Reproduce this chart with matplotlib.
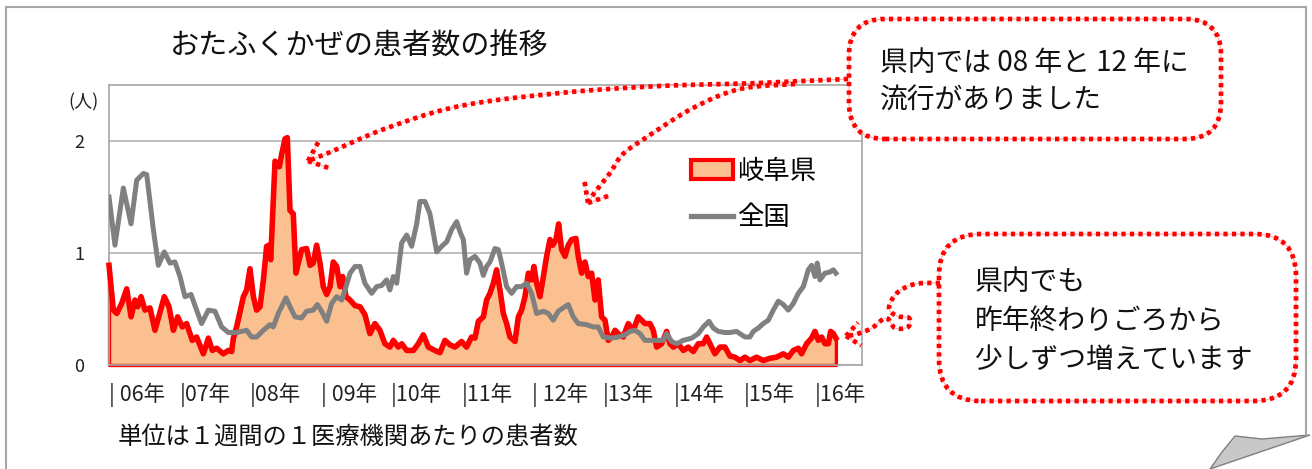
import numpy as np
import matplotlib
matplotlib.use("Agg")
import matplotlib.pyplot as plt
from matplotlib.patches import Patch, FancyBboxPatch, Polygon
from matplotlib.lines import Line2D
from matplotlib.transforms import Affine2D

plt.rcParams['font.family'] = ['Noto Sans CJK JP', 'DejaVu Sans']

# ---------------- data (weeks since start of 2006, patients per sentinel) -------------
zenkoku_week = [0, 4.4, 10.6, 16.3, 20.5, 25.4, 27.9, 32.8, 36.5, 40.9, 45.1, 48.8, 52.5, 56.2,
                60.7, 64.8, 68.5, 73.5, 78.4, 83.3, 88.3, 94.4, 101.8, 105.5, 109.2, 114.2,
                119.1, 121.5, 125.2, 130.9, 133.9, 137.6, 142.5, 146.2, 151.1, 154.1, 157.3,
                161.0, 164.7, 168.4, 172.1, 174.6, 178.3, 182.0, 185.7, 189.3, 194.3, 198.0,
                201.7, 205.4, 207.8, 210.3, 212.8, 216.5, 220.2, 223.9, 227.6, 230.0, 233.7,
                237.4, 242.4, 246.1, 249.8, 253.5, 257.2, 259.6, 262.1, 264.5, 267.0, 270.7,
                274.4, 276.9, 279.3, 281.8, 285.5, 288.0, 290.4, 294.1, 297.8, 301.5, 305.2,
                308.9, 312.6, 316.3, 321.3, 325.0, 328.6, 332.3, 336.0, 339.7, 343.4, 347.1,
                353.3, 358.2, 361.9, 365.6, 371.8, 376.7, 381.7, 385.4, 389.1, 392.8, 396.4,
                401.4, 406.3, 410.0, 412.5, 416.2, 419.9, 424.8, 431.0, 435.9, 439.6, 443.8,
                447.0, 450.7, 455.6, 459.3, 464.2, 468.0, 470.4, 474.1, 476.6, 480.3, 484.0,
                487.7, 491.4, 495.1, 498.8, 502.5, 506.2, 509.9, 513.6, 517.3, 519.7, 522.2,
                523.9, 525.9, 529.6, 533.3, 535.8, 537.7]
zenkoku_val = [1.50, 1.07, 1.58, 1.26, 1.65, 1.71, 1.70, 1.21, 0.89, 1.01, 0.91, 0.92, 0.79, 0.61,
               0.63, 0.49, 0.37, 0.49, 0.48, 0.34, 0.29, 0.29, 0.31, 0.25, 0.25, 0.31,
               0.36, 0.34, 0.46, 0.60, 0.52, 0.43, 0.42, 0.48, 0.49, 0.54, 0.48,
               0.39, 0.55, 0.61, 0.58, 0.67, 0.82, 0.88, 0.88, 0.73, 0.64, 0.70,
               0.71, 0.76, 0.67, 0.79, 0.73, 1.09, 1.16, 1.06, 1.26, 1.46, 1.46,
               1.35, 1.01, 1.06, 1.10, 1.21, 1.28, 1.19, 1.12, 0.82, 0.94, 0.97,
               0.91, 0.80, 0.88, 0.92, 1.04, 1.03, 0.91, 0.70, 0.64, 0.70, 0.70,
               0.73, 0.64, 0.46, 0.48, 0.46, 0.40, 0.48, 0.51, 0.54, 0.43, 0.37,
               0.36, 0.34, 0.34, 0.25, 0.24, 0.25, 0.27, 0.30, 0.31, 0.28, 0.22,
               0.22, 0.22, 0.22, 0.28, 0.21, 0.19, 0.22, 0.24, 0.28, 0.34, 0.39,
               0.33, 0.30, 0.29, 0.29, 0.30, 0.27, 0.25, 0.25, 0.30, 0.33, 0.37,
               0.40, 0.49, 0.57, 0.54, 0.49, 0.55, 0.64, 0.70, 0.85, 0.89, 0.79,
               0.91, 0.76, 0.82, 0.83, 0.85, 0.82]

gifu_week = [0, 3.2, 5.7, 9.4, 13.1, 16.3, 19.2, 21.2, 23.7, 26.6, 30.3, 34.0, 40.9, 44.4, 47.6,
             50.8, 54.2, 57.4, 61.6, 64.8, 69.8, 73.5, 76.4, 79.6, 84.6, 88.3, 90.7, 92.0, 94.4,
             99.4, 101.8, 104.3, 106.8, 109.2, 111.7, 114.2, 116.6, 118.6, 119.6, 122.8, 126.0,
             127.7, 130.2, 131.9, 133.9, 136.3, 138.3, 140.0, 142.5, 146.2, 148.7, 151.1, 153.6,
             156.1, 158.5, 161.0, 163.5, 165.9, 168.4, 170.9, 172.8, 175.3, 178.3, 182.0, 185.7,
             189.3, 193.0, 196.7, 200.4, 204.1, 207.8, 210.3, 214.0, 216.5, 220.2, 225.1, 228.8,
             232.5, 236.2, 241.1, 244.8, 248.5, 252.2, 255.9, 260.8, 264.5, 268.2, 270.7, 273.2,
             276.9, 279.3, 281.8, 284.3, 286.7, 289.2, 291.7, 294.1, 296.6, 300.3, 302.8, 305.2,
             307.7, 310.2, 312.6, 314.3, 316.3, 318.8, 321.3, 323.7, 326.2, 328.2, 330.6, 332.6,
             334.8, 337.3, 339.7, 342.2, 345.4, 347.1, 349.6, 352.1, 354.5, 357.0, 359.5, 361.9,
             364.4, 366.9, 369.3, 371.8, 374.3, 376.7, 380.4, 384.1, 387.8, 391.5, 394.0, 396.4,
             400.1, 402.6, 405.1, 408.8, 412.5, 414.9, 417.4, 421.1, 424.8, 428.5, 432.2, 435.9,
             439.6, 442.1, 444.5, 448.2, 451.9, 455.6, 459.3, 463.0, 466.7, 470.4, 474.1, 479.0,
             484.0, 488.9, 493.8, 498.8, 502.5, 506.2, 509.9, 512.3, 516.0, 519.7, 522.2, 524.7,
             527.1, 529.6, 532.1, 533.8, 535.8, 537.7]
gifu_val = [0.89, 0.49, 0.46, 0.55, 0.68, 0.43, 0.58, 0.52, 0.61, 0.49, 0.51, 0.31, 0.61, 0.52, 0.31,
            0.43, 0.34, 0.37, 0.22, 0.25, 0.10, 0.24, 0.13, 0.15, 0.10, 0.13, 0.12, 0.24, 0.34,
            0.61, 0.67, 0.86, 0.61, 0.49, 0.52, 0.76, 1.06, 1.07, 0.94, 1.82, 1.77,
            1.88, 2.02, 2.03, 1.38, 1.35, 0.82, 0.91, 1.03, 1.04, 0.89, 0.91, 1.07,
            0.91, 0.70, 0.63, 0.70, 0.92, 0.88, 0.70, 0.79, 0.61, 0.58, 0.53, 0.52,
            0.45, 0.28, 0.37, 0.31, 0.19, 0.16, 0.22, 0.16, 0.19, 0.13, 0.13, 0.19,
            0.27, 0.16, 0.13, 0.11, 0.22, 0.18, 0.16, 0.21, 0.16, 0.25, 0.24, 0.39,
            0.43, 0.58, 0.64, 0.73, 0.85, 0.67, 0.46, 0.37, 0.25, 0.21, 0.43, 0.49,
            0.61, 0.82, 0.76, 0.88, 0.73, 0.61, 0.79, 0.97, 1.12, 1.07, 1.12, 1.26,
            1.03, 0.97, 1.07, 1.12, 1.13, 0.97, 0.82, 0.92, 0.79, 0.82, 0.58, 0.76,
            0.43, 0.40, 0.22, 0.25, 0.31, 0.28, 0.25, 0.37, 0.31, 0.43, 0.40, 0.37,
            0.37, 0.31, 0.16, 0.19, 0.30, 0.19, 0.16, 0.19, 0.13, 0.16, 0.12, 0.19,
            0.19, 0.25, 0.19, 0.10, 0.16, 0.16, 0.08, 0.07, 0.04, 0.07, 0.04, 0.07,
            0.04, 0.06, 0.07, 0.10, 0.07, 0.13, 0.15, 0.10, 0.19, 0.24, 0.30, 0.22,
            0.25, 0.19, 0.19, 0.30, 0.28, 0.24]

year_labels = ['| 06年', '|07年', '|08年', '| 09年', '|10年', '|11年', '| 12年',
               '|13年', '|14年', '|15年', '|16年']
weeks_per_year = 52.18
y_ticks = [0, 1, 2]
series_names = ['岐阜県', '全国']

title = 'おたふくかぜの患者数の推移'
unit_note = '単位は１週間の１医療機関あたりの患者数'
callout1 = ['県内では 08 年と 12 年に', '流行がありました']
callout2 = ['県内でも', '昨年終わりごろから', '少しずつ増えています']

# ---------------- style ----------------
RED = '#FF0000'
FILL = '#FAC090'
GRAY = '#808080'
FRAME = '#A6A6A6'

W, H = 1312, 469
fig = plt.figure(figsize=(W / 100, H / 100), dpi=100)
fig.patch.set_facecolor('white')
T = Affine2D().scale(1.0 / W, 1.0 / H) + fig.transFigure   # pixel (origin bottom-left)


def P(x, y):
    return (x, H - y)


ax = fig.add_axes([109 / W, (H - 365) / H, (862 - 109) / W, 280 / H])
ax.set_xlim(0, 557)
ax.set_ylim(0, 2.5)

ax.fill_between(gifu_week, gifu_val, 0, facecolor=FILL, edgecolor=RED, linewidth=2.4,
                clip_on=False, zorder=2)
ax.plot(gifu_week, gifu_val, color=RED, lw=4.0, solid_joinstyle='round', zorder=3, clip_on=False)
ax.plot(zenkoku_week, zenkoku_val, color=GRAY, lw=3.6, solid_joinstyle='round', zorder=4)

ax.set_yticks(y_ticks)
ax.set_yticklabels([str(v) for v in y_ticks])
ax.yaxis.grid(True, color='#B3B3B3', lw=1.2)
ax.set_axisbelow(True)
ax.tick_params(axis='y', length=0, pad=18, labelsize=13, labelcolor='#222222')

ax.set_xticks([weeks_per_year * i for i in range(len(year_labels))])
ax.set_xticklabels(year_labels)
for lbl in ax.get_xticklabels():
    lbl.set_ha('left')
ax.tick_params(axis='x', length=0, pad=13, labelsize=15.5, labelcolor='#222222')

for s in ax.spines.values():
    s.set_color(FRAME)
    s.set_linewidth(1.2)

handles = [Patch(facecolor=FILL, edgecolor=RED, linewidth=3),
           Line2D([], [], color=GRAY, lw=3.8)]
ax.legend(handles, series_names, loc='upper left', bbox_to_anchor=(691 / W, 1 - 158 / H),
          bbox_transform=fig.transFigure, frameon=False, fontsize=19, handlelength=1.6,
          handleheight=0.75, handletextpad=0.15, labelspacing=0.72, borderpad=0,
          borderaxespad=0)

# ---------------- texts ----------------
fig.text(170 / W, 1 - 47 / H, title, fontsize=21, va='center', ha='left', color='#111111')
fig.text(84 / W, 1 - 102 / H, '(人)', fontsize=13, va='center', ha='center', color='#222222')
fig.text(118 / W, 1 - 437 / H, unit_note, fontsize=17.5, va='center', ha='left', color='#111111')

# ---------------- outer frame + page curl ----------------
fig.add_artist(Line2D([6, 6, 1306, 1306], [0, H - 7, H - 7, H - 435], transform=T,
                      color=FRAME, lw=1.5))
fig.add_artist(Polygon([P(1210, 469), P(1222, 452), P(1235, 436), P(1262, 439), P(1310, 435)],
                       closed=True, transform=T, facecolor='#C8C8C8', edgecolor='#7F7F7F', lw=1))


# ---------------- callouts ----------------
def dotted(xs, ys):
    fig.add_artist(Line2D(xs, ys, transform=T, color='#FFB4B4', lw=0.9))
    fig.add_artist(Line2D(xs, ys, transform=T, color=RED, lw=3.4,
                          dashes=(0.9, 0.9), dash_capstyle='butt'))


def smooth(pts, n=24):
    p = np.array([P(*q) for q in pts], float)
    Q = np.vstack([p[0], p, p[-1]])
    out = []
    t = np.linspace(0, 1, n)[:, None]
    for i in range(len(Q) - 3):
        p0, p1, p2, p3 = Q[i:i + 4]
        out.append(0.5 * ((2 * p1) + (-p0 + p2) * t + (2 * p0 - 5 * p1 + 4 * p2 - p3) * t ** 2
                          + (-p0 + 3 * p1 - 3 * p2 + p3) * t ** 3))
    return np.vstack(out)


def arrow_curve(pts, L=22, ang=40):
    c = smooth(pts)
    dotted(c[:, 0], c[:, 1])
    tip = c[-1]
    d = c[-1] - c[-8]
    d = d / np.hypot(*d)
    for a in (ang, -ang):
        r = np.radians(a)
        rot = np.array([[np.cos(r), -np.sin(r)], [np.sin(r), np.cos(r)]])
        w = tip - L * rot.dot(d)
        dotted([tip[0], w[0]], [tip[1], w[1]])


def callout_box(x0, y0, x1, y1, rad):
    b = FancyBboxPatch(P(x0, y1), x1 - x0, y1 - y0,
                       boxstyle=f'round,pad=0,rounding_size={rad}', transform=T,
                       facecolor='white', edgecolor='#FFB4B4', lw=0.9)
    fig.add_artist(b)
    b2 = FancyBboxPatch(P(x0, y1), x1 - x0, y1 - y0,
                        boxstyle=f'round,pad=0,rounding_size={rad}', transform=T,
                        facecolor='none', edgecolor=RED, lw=3.4, linestyle=(0, (0.9, 0.9)))
    fig.add_artist(b2)


arrow_curve([(848, 79), (760, 83), (660, 86), (560, 93), (460, 106), (387, 128),
             (333, 151), (308, 161)])
arrow_curve([(795, 84), (740, 89), (693, 108), (647, 137), (623, 154), (610, 173),
             (595, 192), (588, 203)])
arrow_curve([(940, 283), (915, 284), (897, 293), (889, 308), (897, 316), (909, 318),
             (908, 327), (895, 328), (886, 318), (872, 328), (857, 334), (846, 336)], L=18)

callout_box(849, 19, 1221, 139, 36)
callout_box(939, 234, 1296, 401, 42)

for i, line in enumerate(callout1):
    fig.text(880 / W, 1 - (63 + 38 * i) / H, line, fontsize=20, va='center', ha='left',
             color='#111111')
for i, line in enumerate(callout2):
    fig.text(975 / W, 1 - (282 + 39 * i) / H, line, fontsize=20, va='center', ha='left',
             color='#111111')

fig.savefig('out.png', dpi=100, facecolor='white')
